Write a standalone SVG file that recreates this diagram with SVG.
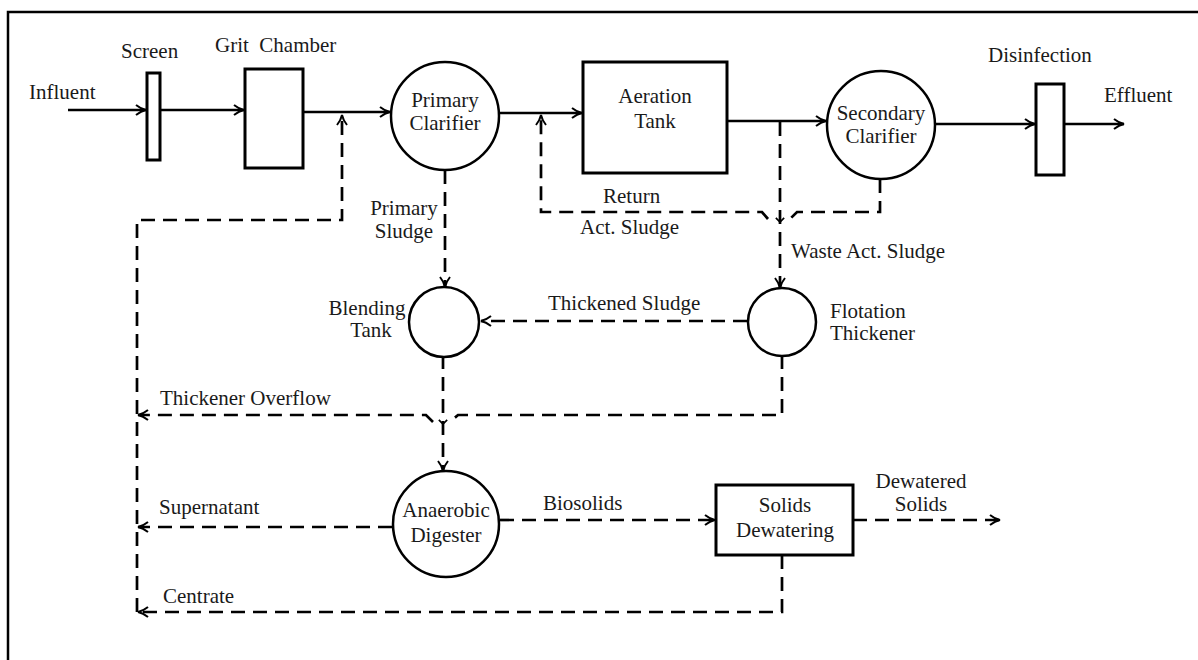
<svg xmlns="http://www.w3.org/2000/svg" width="1198" height="660" viewBox="0 0 1198 660">
<style>
text{font-family:"Liberation Serif","Times New Roman",serif;font-size:21px;fill:#1a1a1a;white-space:pre}
.m{text-anchor:middle}
.sh{fill:#fff;stroke:#000;stroke-width:3}
.ci{fill:#fff;stroke:#000;stroke-width:2.5}
.s{fill:none;stroke:#000;stroke-width:2.5}
.d{fill:none;stroke:#000;stroke-width:2.7;stroke-dasharray:14 8}
</style>
<defs>
<marker id="a" viewBox="0 0 12 12" refX="11" refY="6" markerWidth="12" markerHeight="12" markerUnits="userSpaceOnUse" orient="auto">
<path d="M1,1 Q6,5 11,6 Q6,7 1,11" fill="none" stroke="#000" stroke-width="2" stroke-dasharray="none"/>
</marker>
<marker id="t" viewBox="0 0 12 12" refX="6" refY="6" markerWidth="10" markerHeight="10" markerUnits="userSpaceOnUse" orient="auto">
<path d="M1,1 L6,6 L1,11" fill="none" stroke="#000" stroke-width="2" stroke-dasharray="none"/>
</marker>
</defs>
<rect x="0" y="0" width="1198" height="660" fill="#fff"/>
<path d="M8,672 V12 H1210" fill="none" stroke="#000" stroke-width="2.5"/>

<g id="connectors">
<path class="s" d="M68,110 H146" marker-end="url(#a)"/>
<path class="s" d="M161,110 H244" marker-end="url(#a)"/>
<path class="s" d="M303,112 H390" marker-end="url(#a)"/>
<path class="s" d="M499,113 H582" marker-end="url(#a)"/>
<path class="s" d="M727,121 H826" marker-end="url(#a)"/>
<path class="s" d="M935,124 H1035" marker-end="url(#a)"/>
<path class="s" d="M1064,124 H1124" marker-end="url(#a)"/>
<path class="d" d="M137,612 V220 H342 V115" marker-end="url(#a)"/>
<path class="d" d="M768,219 L762,212 H541 V115" marker-end="url(#a)"/>
<path class="d" d="M780,122 V222 V288" marker-mid="url(#t)" marker-end="url(#a)"/>
<path class="d" d="M880,179 V212 H797 L790,219"/>
<path class="d" d="M445,170 V287" marker-end="url(#a)"/>
<path class="d" d="M747,321 H481" marker-end="url(#a)"/>
<path class="d" d="M443,355 V424 V471" marker-mid="url(#t)" marker-end="url(#a)"/>
<path class="d" d="M782,355 V415 H458 L451,421"/>
<path class="d" d="M433,422 L426,415 H138" marker-end="url(#a)"/>
<path class="d" d="M392,527 H138" marker-end="url(#a)"/>
<path class="d" d="M500,520 H715" marker-end="url(#a)"/>
<path class="d" d="M853,520 H1000" marker-end="url(#a)"/>
<path class="d" d="M782,555 V612 H138" marker-end="url(#a)"/>
</g>

<g id="influent"><text x="29" y="99">Influent</text></g>
<g id="screen"><rect class="sh" x="147" y="73" width="13" height="87"/><text x="121" y="58">Screen</text></g>
<g id="grit"><rect class="sh" x="245" y="69" width="58" height="99"/><text x="215" y="52">Grit  Chamber</text></g>
<g id="primary"><circle class="ci" cx="445" cy="116" r="54"/><text class="m" x="445" y="107">Primary</text><text class="m" x="445" y="130">Clarifier</text></g>
<g id="aeration"><rect class="sh" x="583" y="62" width="144" height="111"/><text class="m" x="655" y="103">Aeration</text><text class="m" x="655" y="128">Tank</text></g>
<g id="secondary"><circle class="ci" cx="881" cy="125" r="54"/><text class="m" x="881" y="120">Secondary</text><text class="m" x="881" y="143">Clarifier</text></g>
<g id="disinfection"><rect class="sh" x="1036" y="84" width="28" height="91"/><text x="988" y="62">Disinfection</text></g>
<g id="effluent"><text x="1104" y="102">Effluent</text></g>
<g id="return-label"><text x="603" y="203">Return</text><text x="580" y="234">Act. Sludge</text></g>
<g id="primary-sludge-label"><text class="m" x="404" y="215">Primary</text><text class="m" x="404" y="238">Sludge</text></g>
<g id="waste-label"><text x="791" y="258">Waste Act. Sludge</text></g>
<g id="blending"><circle class="ci" cx="444" cy="322" r="35"/><text class="m" x="367" y="315">Blending</text><text class="m" x="371" y="337">Tank</text></g>
<g id="thickened-label"><text x="548" y="310">Thickened Sludge</text></g>
<g id="flotation"><circle class="ci" cx="782" cy="322" r="34"/><text x="830" y="318">Flotation</text><text x="830" y="340">Thickener</text></g>
<g id="overflow-label"><text x="160" y="405">Thickener Overflow</text></g>
<g id="digester"><circle class="ci" cx="446" cy="524" r="53"/><text class="m" x="446" y="517">Anaerobic</text><text class="m" x="446" y="542">Digester</text></g>
<g id="supernatant-label"><text x="159" y="514">Supernatant</text></g>
<g id="biosolids-label"><text x="543" y="510">Biosolids</text></g>
<g id="dewatering"><rect class="sh" x="716" y="485" width="137" height="70"/><text class="m" x="785" y="512">Solids</text><text class="m" x="785" y="537">Dewatering</text></g>
<g id="dewatered-label"><text class="m" x="921" y="488">Dewatered</text><text class="m" x="921" y="511">Solids</text></g>
<g id="centrate-label"><text x="163" y="603">Centrate</text></g>
</svg>
